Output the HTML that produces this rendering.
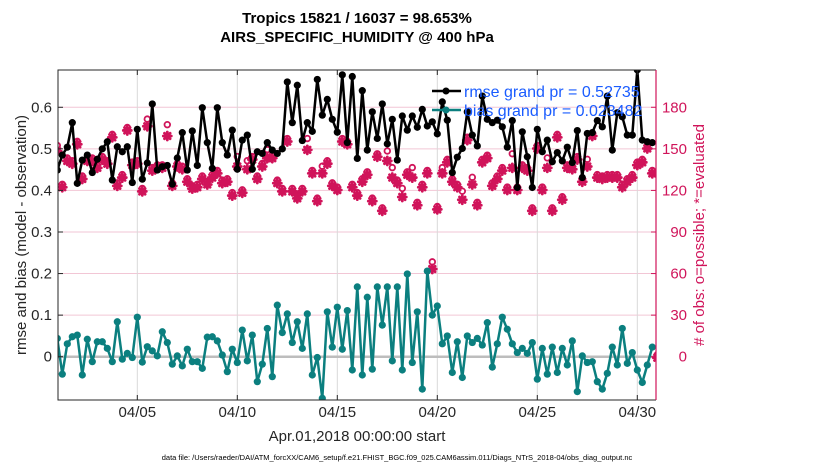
<!DOCTYPE html>
<html><head><meta charset="utf-8"><style>
body{margin:0;background:#fff;}
svg{display:block;font-family:"Liberation Sans",Arial,sans-serif;}
</style></head><body>
<svg id="chart" width="830" height="470" viewBox="0 0 830 470">
<defs><clipPath id="plotclip"><rect x="58" y="70" width="598" height="330"/></clipPath></defs>
<text x="357" y="23" text-anchor="middle" font-size="15" font-weight="bold" fill="#000">Tropics 15821 / 16037 = 98.653%</text>
<text x="357" y="42" text-anchor="middle" font-size="15" font-weight="bold" fill="#000">AIRS_SPECIFIC_HUMIDITY @ 400 hPa</text>
<g id="grid"></g>
<g id="series" clip-path="url(#plotclip)"></g>
<g id="axes"></g>
<text transform="translate(26,235) rotate(-90)" text-anchor="middle" font-size="15" fill="#262626">rmse and bias (model - observation)</text>
<text transform="translate(704,235) rotate(-90)" text-anchor="middle" font-size="15" fill="#d0145a"># of obs: o=possible; *=evaluated</text>
<text x="357" y="441" text-anchor="middle" font-size="15" fill="#262626">Apr.01,2018 00:00:00 start</text>
<text x="397" y="460" text-anchor="middle" font-size="7.5" fill="#000">data file: /Users/raeder/DAI/ATM_forcXX/CAM6_setup/f.e21.FHIST_BGC.f09_025.CAM6assim.011/Diags_NTrS_2018-04/obs_diag_output.nc</text>
<g id="legend">
<g>
<line x1="432" y1="91" x2="461" y2="91" stroke="#000" stroke-width="2.5"/><circle cx="446" cy="91" r="3.5" fill="#000"/>
<text x="464" y="97" font-size="16" fill="#1a5cff">rmse grand pr = 0.52735</text></g>
<g>
<line x1="432" y1="110" x2="461" y2="110" stroke="#0b7f7f" stroke-width="2.5"/><circle cx="446" cy="110" r="3.5" fill="#0b7f7f"/>
<text x="464" y="116" font-size="16" fill="#1a5cff">bias grand pr = 0.023482</text></g>
</g>
</svg>
<script>
const rmse=[0.449,0.485,0.504,0.563,0.417,0.473,0.485,0.443,0.475,0.50,0.517,0.425,0.505,0.493,0.505,0.419,0.547,0.427,0.466,0.608,0.449,0.457,0.46,0.415,0.478,0.539,0.449,0.543,0.46,0.599,0.515,
0.453,0.599,0.515,0.485,0.545,0.451,0.521,0.533,0.451,0.493,0.489,0.515,0.497,0.489,0.50,0.661,0.563,0.653,0.52,0.563,0.542,0.667,0.581,0.619,0.571,0.54,0.678,0.515,
0.674,0.477,0.64,0.497,0.589,0.525,0.608,0.512,0.571,0.473,0.579,0.545,0.579,0.552,0.595,0.555,0.565,0.536,0.613,0.569,0.443,0.48,0.501,0.589,0.533,0.507,0.627,0.571,0.563,0.569,
0.553,0.504,0.568,0.407,0.541,0.481,0.407,0.547,0.493,0.521,0.469,0.491,0.471,0.504,0.467,0.544,0.431,0.537,0.539,0.568,0.553,0.627,0.497,0.587,0.577,0.533,0.533,0.69,0.521,0.517,0.515];
const bias=[0.044,-0.042,0.031,0.048,0.052,-0.044,0.042,-0.012,0.036,0.036,0.020,-0.012,0.084,-0.006,0.008,-0.002,0.095,-0.013,0.024,0.014,0.002,0.060,0.034,-0.018,0.002,-0.022,0.018,-0.012,-0.012,-0.028,0.047,
0.048,0.038,0.004,-0.036,0.018,-0.014,0.064,-0.010,0.052,-0.060,-0.018,0.068,-0.048,0.124,0.058,0.103,0.034,0.084,0.020,0.103,-0.044,-0.002,-0.100,0.108,0.023,0.119,0.018,0.111,-0.032,
0.168,-0.044,0.143,-0.030,0.168,0.076,0.168,-0.010,0.168,-0.032,0.199,-0.014,0.108,-0.078,0.206,0.100,0.122,0.031,0.050,-0.038,0.036,-0.050,0.050,0.034,0.044,0.028,0.082,-0.025,0.031,0.095,0.066,
0.031,0.010,0.020,0.008,0.034,-0.054,0.020,-0.042,0.023,-0.038,0.020,-0.020,0.038,-0.084,0.002,-0.014,-0.012,-0.060,-0.078,-0.040,0.023,-0.020,0.068,-0.016,0.010,-0.032,-0.062,-0.020,0.023];
const evaluated=[149,123,142,140,154,129,142,142,137,143,140,159,124,130,164,139,140,120,167,135,137,137,160,124,138,136,127,122,123,129,125,
130,133,126,127,117,138,119,136,143,129,138,144,144,126,120,156,120,115,120,150,133,113,133,140,124,121,156,154,123,117,
127,132,113,145,106,142,130,126,116,132,130,110,123,133,64,107,133,141,127,123,114,157,125,110,141,144,124,129,135,121,
137,121,137,135,106,151,121,137,106,159,114,137,136,143,127,138,160,130,129,130,130,130,123,127,130,139,141,151,133,0];
const possible=[151,123,142,140,154,129,142,142,137,143,140,159,124,130,164,139,140,120,170,135,137,137,166,124,138,136,127,122,123,129,125,
130,133,126,127,117,143,119,140,143,129,138,148,144,126,120,156,120,115,120,156,133,113,136,140,124,121,156,154,123,117,
127,132,113,145,106,147,135,126,120,132,135,110,123,133,67,107,135,141,127,123,118,157,128,110,141,144,124,129,135,121,
145,121,137,135,106,151,121,142,106,159,114,137,136,143,127,141,160,130,129,130,130,130,123,127,130,139,141,151,133,0];
const xTickDays=[4,9,14,19,24,29];
const xTickLabels=["04/05","04/10","04/15","04/20","04/25","04/30"];
const yTicks=[0,0.1,0.2,0.3,0.4,0.5,0.6];
const yTickLabels=["0","0.1","0.2","0.3","0.4","0.5","0.6"];
const cTicks=[0,30,60,90,120,150,180];

const NS="http://www.w3.org/2000/svg";
const L=58,R=656,T=70,B=400;
function X(d){return 57.3+20*d;}
function Y(v){return 356.7-v*415.7;}
function YC(c){return Y(c/300);}
function mk(tag,attrs,parent){const e=document.createElementNS(NS,tag);for(const k in attrs)e.setAttribute(k,attrs[k]);parent.appendChild(e);return e;}
const grid=document.getElementById('grid'),ser=document.getElementById('series'),axes=document.getElementById('axes');
const PINK="#d0145a",TEAL="#0b7f7f";

yTicks.forEach((v,i)=>{
  const g=mk('line',{x1:L,x2:R,y1:Y(v),y2:Y(v),stroke:"#f2c6d5","stroke-width":1},grid);
  
  
});
xTickDays.forEach((d,i)=>{
  const g=mk('line',{x1:X(d),x2:X(d),y1:T,y2:B,stroke:"#d9d9d9","stroke-width":1},grid);
  
  
});
const zl=mk('line',{x1:L,x2:R,y1:Y(0),y2:Y(0),stroke:"#bdbdbd","stroke-width":2.5},grid);



function star(cx,cy,parent,name){
  const g=mk('g',{stroke:PINK,"stroke-width":2.8,"stroke-linecap":"round"},parent);
  
  
  const r=4;
  mk('line',{x1:cx-r,y1:cy,x2:cx+r,y2:cy},g);
  mk('line',{x1:cx,y1:cy-r,x2:cx,y2:cy+r},g);
  mk('line',{x1:cx-r*0.7,y1:cy-r*0.7,x2:cx+r*0.7,y2:cy+r*0.7},g);
  mk('line',{x1:cx-r*0.7,y1:cy+r*0.7,x2:cx+r*0.7,y2:cy-r*0.7},g);
}
possible.forEach((c,i)=>{
  const e=mk('circle',{cx:X(i*0.25),cy:YC(c)-2,r:2.8,fill:"#fff",stroke:PINK,"stroke-width":1.8},ser);
  
  
});
evaluated.forEach((c,i)=>{star(X(i*0.25),YC(c)+1,ser,'evaluated-count-marker');});

function lineSeries(arr,color,name){
  const pts=arr.map((v,i)=>X(i*0.25).toFixed(1)+","+Y(v).toFixed(1)).join(" ");
  const pl=mk('polyline',{points:pts,fill:"none",stroke:color,"stroke-width":2.5,"stroke-linejoin":"round"},ser);
  
  
  arr.forEach((v,i)=>{
    const c=mk('circle',{cx:X(i*0.25),cy:Y(v),r:3.6,fill:color},ser);
    
    
  });
}
lineSeries(rmse,"#000",'rmse');
lineSeries(bias,TEAL,'bias');

const fr=mk('path',{d:`M${R},${T} L${L},${T} L${L},${B} L${R},${B}`,fill:"none",stroke:"#262626","stroke-width":1},axes);


const ra=mk('line',{x1:R,x2:R,y1:T,y2:B,stroke:PINK,"stroke-width":1.2},axes);


yTicks.forEach((v,i)=>{
  mk('line',{x1:L,x2:L+5,y1:Y(v),y2:Y(v),stroke:"#262626"},axes);
  const t=mk('text',{x:L-6,y:Y(v)+5,"text-anchor":"end","font-size":15,fill:"#262626"},axes);
  t.textContent=yTickLabels[i];
  
  
});
cTicks.forEach((c,i)=>{
  mk('line',{x1:R-5,x2:R,y1:YC(c),y2:YC(c),stroke:PINK},axes);
  const t=mk('text',{x:687,y:YC(c)+5,"text-anchor":"end","font-size":15,fill:PINK},axes);
  t.textContent=String(c);
  
  
});
xTickDays.forEach((d,i)=>{
  mk('line',{x1:X(d),x2:X(d),y1:B-5,y2:B,stroke:"#262626"},axes);
  mk('line',{x1:X(d),x2:X(d),y1:T,y2:T+5,stroke:"#262626"},axes);
  const t=mk('text',{x:X(d),y:417,"text-anchor":"middle","font-size":15,fill:"#262626"},axes);
  t.textContent=xTickLabels[i];
  
  
});
// keep legend on top of series
document.getElementById('chart').appendChild(document.getElementById('legend'));
</script>
</body></html>
